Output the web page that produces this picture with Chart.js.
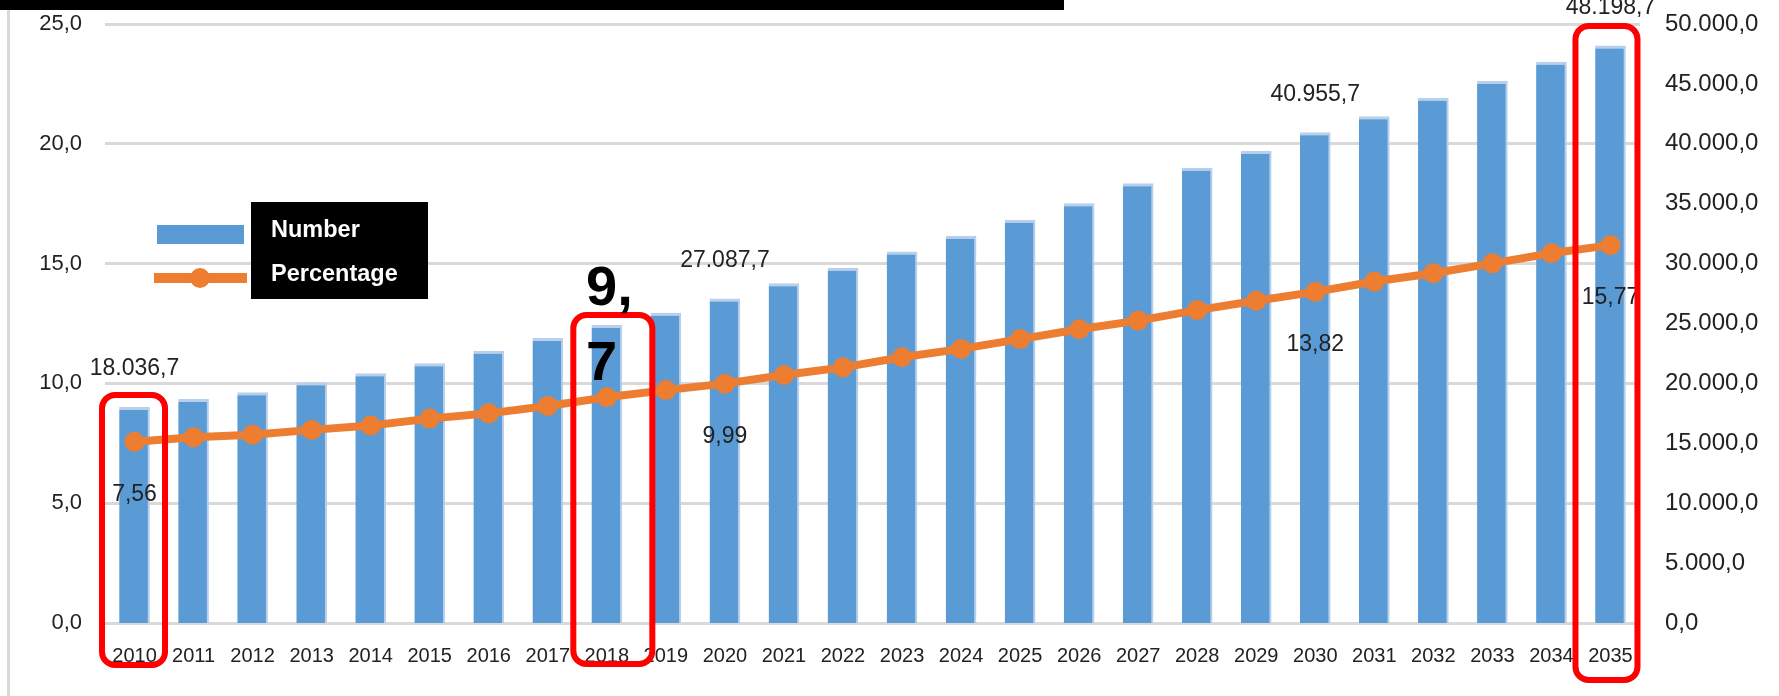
<!DOCTYPE html>
<html>
<head>
<meta charset="utf-8">
<script src="https://cdn.jsdelivr.net/npm/chart.js@4.4.1/dist/chart.umd.min.js"></script>
<style>
  html, body { margin: 0; padding: 0; background: #fff; }
  #wrap { position: relative; width: 1779px; height: 696px; }
</style>
</head>
<body>
<div id="wrap"><canvas id="chart"></canvas></div>
<script>
const years = ['2010', '2011', '2012', '2013', '2014', '2015', '2016', '2017', '2018',
    '2019', '2020', '2021', '2022', '2023', '2024', '2025', '2026', '2027', '2028',
    '2029', '2030', '2031', '2032', '2033', '2034', '2035'];

// Number (right axis)
const numberValues = [18036.7, 18700, 19260, 20100, 20840, 21680, 22730, 23800, 24870,
    25900, 27087.7, 28360, 29660, 31000, 32330, 33670, 35030, 36700, 38000,
    39400, 40955.7, 42300, 43850, 45240, 46850, 48198.7];

// Percentage (left axis)
const percentValues = [7.56, 7.75, 7.86, 8.06, 8.24, 8.53, 8.75, 9.06, 9.42,
    9.72, 9.99, 10.35, 10.67, 11.09, 11.44, 11.85, 12.26, 12.62, 13.06,
    13.45, 13.82, 14.25, 14.60, 15.01, 15.43, 15.77];

const seriesNames = ['Number', 'Percentage'];
const labeledIdx = [0, 10, 20, 25];       // points that carry a value label
const boxedYears = ['2010', '2018', '2035'];
const calloutLines = ['9,', '7'];

const BLUE = '#5B9BD5';
const ORANGE = '#ED7D31';
const TEXT = '#222';

// 18036.7 -> "18.036,7"
function euro(v, dec) {
    const parts = v.toFixed(dec).split('.');
    const int = parts[0].replace(/\B(?=(\d{3})+(?!\d))/g, '.');
    return parts[1] ? int + ',' + parts[1] : int;
}

const overlay = {
    id: 'overlay',
    beforeDraw(chart) {
        const c = chart.ctx;
        c.save();
        c.fillStyle = '#d9d9d9';
        c.fillRect(7, 10, 3, chart.height - 10);
        c.restore();
    },
    afterDatasetsDraw(chart) {
        const c = chart.ctx;
        const line = chart.getDatasetMeta(0);
        const bars = chart.getDatasetMeta(1);
        c.save();
        c.font = '23px "Liberation Sans", Arial, sans-serif';
        c.fillStyle = TEXT;
        c.textAlign = 'center';
        c.textBaseline = 'middle';
        labeledIdx.forEach(i => {
            const b = bars.data[i];
            c.fillText(euro(numberValues[i], 1), b.x, b.y - 38);
            const p = line.data[i];
            c.fillText(euro(percentValues[i], 2), p.x, p.y + 53);
        });
        c.restore();
    },
    afterDraw(chart) {
        const c = chart.ctx;
        const x = chart.scales.x;
        c.save();

        // red highlight boxes
        const boxes = [
            { dx: -1, w: 69, top: 392, bottom: 668 },
            { dx: 6, w: 85, top: 312, bottom: 667 },
            { dx: -4, w: 68, top: 23, bottom: 683 }
        ];
        c.strokeStyle = '#ff0000';
        c.lineWidth = 6;
        boxedYears.forEach((yr, k) => {
            const b = boxes[k];
            const cx = x.getPixelForValue(years.indexOf(yr)) + b.dx;
            c.beginPath();
            c.roundRect(cx - b.w / 2 + 3, b.top + 3, b.w - 6, b.bottom - b.top - 6, 13);
            c.stroke();
        });

        // big callout
        c.fillStyle = '#000';
        c.font = 'bold 56px "Liberation Sans", Arial, sans-serif';
        c.textAlign = 'left';
        c.textBaseline = 'alphabetic';
        c.fillText(calloutLines[0], 586, 305);
        c.fillText(calloutLines[1], 586, 380);

        // legend
        const ds = chart.data.datasets;
        c.fillStyle = ds[1].backgroundColor;
        c.fillRect(157, 225, 87, 19);
        c.fillStyle = ds[0].borderColor;
        c.fillRect(154, 273, 93, 10);
        c.beginPath();
        c.arc(200, 278, 10, 0, Math.PI * 2);
        c.fill();
        c.fillStyle = '#000';
        c.fillRect(251, 202, 177, 97);
        c.fillStyle = '#fff';
        c.font = 'bold 23.5px "Liberation Sans", Arial, sans-serif';
        c.fillText(seriesNames[0], 271, 237);
        c.fillText(seriesNames[1], 271, 281);

        // black strip at the top
        c.fillStyle = '#000';
        c.fillRect(0, 0, 1064, 10);
        c.restore();
    }
};

document.addEventListener('DOMContentLoaded', () => {
    const ctx = document.getElementById('chart').getContext('2d');

    new Chart(ctx, {
        type: 'bar',
        data: {
            labels: years,
            datasets: [{
                type: 'line',
                label: seriesNames[1],
                data: percentValues,
                yAxisID: 'y',
                borderColor: ORANGE,
                backgroundColor: ORANGE,
                borderWidth: 8,
                pointRadius: 10,
                pointHoverRadius: 10,
                pointBorderWidth: 0,
                pointBackgroundColor: ORANGE,
                tension: 0,
                fill: false,
                order: 0
            }, {
                type: 'bar',
                label: seriesNames[0],
                data: numberValues,
                yAxisID: 'y1',
                backgroundColor: BLUE,
                borderColor: '#b8d0ec',
                borderWidth: { top: 3, right: 2, left: 0, bottom: 0 },
                borderSkipped: 'bottom',
                barPercentage: 0.52,
                categoryPercentage: 1,
                order: 1
            }]
        },
        options: {
            responsive: true,
            maintainAspectRatio: false,
            animation: false,
            events: [],
            layout: { padding: 0 },
            plugins: {
                legend: { display: false },
                tooltip: { enabled: false }
            },
            scales: {
                x: {
                    grid: { display: false },
                    border: { display: false },
                    ticks: {
                        color: TEXT,
                        font: { family: '"Liberation Sans", Arial, sans-serif', size: 20 },
                        padding: 13,
                        maxRotation: 0,
                        autoSkip: false
                    },
                    afterFit: s => {
                        s.height = 73;
                        s.paddingLeft = 0;
                        s.paddingRight = 0;
                    }
                },
                y: {
                    position: 'left',
                    min: 0,
                    max: 25,
                    grid: { color: '#d9d9d9', lineWidth: 3, drawTicks: false },
                    border: { display: false },
                    ticks: {
                        stepSize: 5,
                        color: TEXT,
                        padding: 23,
                        font: { family: '"Liberation Sans", Arial, sans-serif', size: 22 },
                        callback: v => euro(v, 1)
                    },
                    afterFit: s => {
                        s.width = 105;
                        s.paddingTop = 24;
                        s.paddingBottom = 0;
                    }
                },
                y1: {
                    position: 'right',
                    min: 0,
                    max: 50000,
                    grid: { display: false, drawTicks: false },
                    border: { display: false },
                    ticks: {
                        stepSize: 5000,
                        color: TEXT,
                        padding: 25,
                        font: { family: '"Liberation Sans", Arial, sans-serif', size: 24 },
                        callback: v => euro(v, 1)
                    },
                    afterFit: s => {
                        s.width = 139;
                        s.paddingTop = 24;
                        s.paddingBottom = 0;
                    }
                }
            }
        },
        plugins: [overlay]
    });
});
</script>
</body>
</html>
